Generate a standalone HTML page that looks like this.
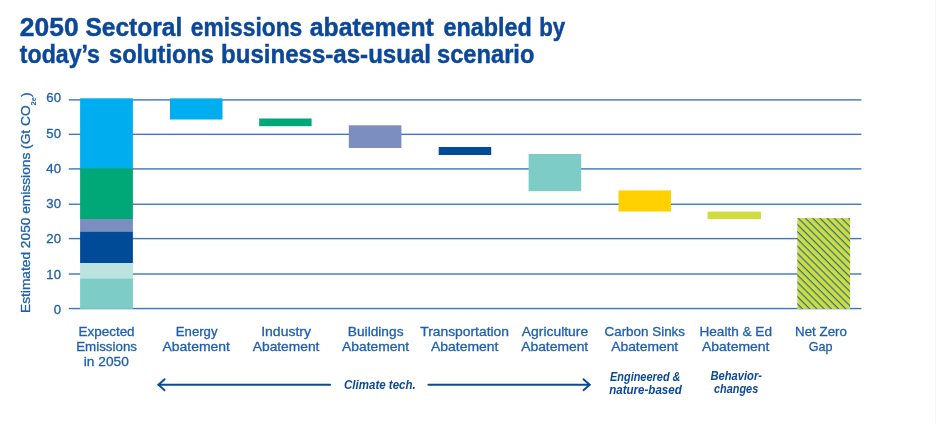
<!DOCTYPE html>
<html lang="en"><head><meta charset="utf-8"><title>2050 Sectoral emissions abatement</title>
<style>html,body{margin:0;padding:0;background:#fff}body{width:936px;height:423px;overflow:hidden}svg{display:block}text{font-family:"Liberation Sans",sans-serif}</style>
</head><body>
<svg width="936" height="423" viewBox="0 0 936 423">
<defs><pattern id="hatch" width="5.1" height="5.1" patternUnits="userSpaceOnUse" patternTransform="translate(-3.2 0) rotate(45)"><rect width="5.1" height="5.1" fill="#cfdc3e"/><rect x="0" y="0" width="5.1" height="1.2" fill="#2f7196"/></pattern></defs>
<rect width="936" height="423" fill="#ffffff"/>
<text x="19.8" y="35.9" font-size="25.6" font-weight="700" fill="#0b4899" stroke="#0b4899" stroke-width="0.45" textLength="58.8" lengthAdjust="spacingAndGlyphs">2050</text>
<text x="85.4" y="35.9" font-size="25.6" font-weight="700" fill="#0b4899" stroke="#0b4899" stroke-width="0.45" textLength="96.9" lengthAdjust="spacingAndGlyphs">Sectoral</text>
<text x="190.8" y="35.9" font-size="25.6" font-weight="700" fill="#0b4899" stroke="#0b4899" stroke-width="0.45" textLength="111.5" lengthAdjust="spacingAndGlyphs">emissions</text>
<text x="309.8" y="35.9" font-size="25.6" font-weight="700" fill="#0b4899" stroke="#0b4899" stroke-width="0.45" textLength="124.0" lengthAdjust="spacingAndGlyphs">abatement</text>
<text x="443.4" y="35.9" font-size="25.6" font-weight="700" fill="#0b4899" stroke="#0b4899" stroke-width="0.45" textLength="88.4" lengthAdjust="spacingAndGlyphs">enabled</text>
<text x="539.2" y="35.9" font-size="25.6" font-weight="700" fill="#0b4899" stroke="#0b4899" stroke-width="0.45" textLength="26.0" lengthAdjust="spacingAndGlyphs">by</text>
<text x="19.8" y="63.1" font-size="25.6" font-weight="700" fill="#0b4899" stroke="#0b4899" stroke-width="0.45" textLength="80.2" lengthAdjust="spacingAndGlyphs">today’s</text>
<text x="109" y="63.1" font-size="25.6" font-weight="700" fill="#0b4899" stroke="#0b4899" stroke-width="0.45" textLength="105.0" lengthAdjust="spacingAndGlyphs">solutions</text>
<text x="221" y="63.1" font-size="25.6" font-weight="700" fill="#0b4899" stroke="#0b4899" stroke-width="0.45" textLength="210.0" lengthAdjust="spacingAndGlyphs">business-as-usual</text>
<text x="437" y="63.1" font-size="25.6" font-weight="700" fill="#0b4899" stroke="#0b4899" stroke-width="0.45" textLength="97.4" lengthAdjust="spacingAndGlyphs">scenario</text>
<rect x="68.8" y="99.20" width="792.6" height="1.4" fill="#3f78b8"/>
<rect x="68.8" y="133.65" width="792.6" height="1.4" fill="#3f78b8"/>
<rect x="68.8" y="168.20" width="792.6" height="1.4" fill="#3f78b8"/>
<rect x="68.8" y="203.55" width="792.6" height="1.4" fill="#3f78b8"/>
<rect x="68.8" y="237.90" width="792.6" height="1.4" fill="#3f78b8"/>
<rect x="68.8" y="273.30" width="792.6" height="1.4" fill="#3f78b8"/>
<rect x="68.8" y="307.85" width="792.6" height="1.4" fill="#3f78b8"/>
<text x="61" y="102.2" font-size="13.2" text-anchor="end" fill="#1d5fae" stroke="#1d5fae" stroke-width="0.3">60</text>
<text x="61" y="137.5" font-size="13.2" text-anchor="end" fill="#1d5fae" stroke="#1d5fae" stroke-width="0.3">50</text>
<text x="61" y="172.7" font-size="13.2" text-anchor="end" fill="#1d5fae" stroke="#1d5fae" stroke-width="0.3">40</text>
<text x="61" y="208.0" font-size="13.2" text-anchor="end" fill="#1d5fae" stroke="#1d5fae" stroke-width="0.3">30</text>
<text x="61" y="243.2" font-size="13.2" text-anchor="end" fill="#1d5fae" stroke="#1d5fae" stroke-width="0.3">20</text>
<text x="61" y="278.5" font-size="13.2" text-anchor="end" fill="#1d5fae" stroke="#1d5fae" stroke-width="0.3">10</text>
<text x="61" y="313.6" font-size="13.2" text-anchor="end" fill="#1d5fae" stroke="#1d5fae" stroke-width="0.3">0</text>
<text transform="translate(30.4 313) rotate(-90)" font-size="13.2" fill="#1d5fae" stroke="#1d5fae" stroke-width="0.3" textLength="220.5" lengthAdjust="spacingAndGlyphs">Estimated 2050 emissions (Gt CO<tspan font-size="7.2" dy="5.3" font-weight="700" stroke="none">2e</tspan><tspan dy="-5.3">)</tspan></text>
<rect x="80.1" y="98.3" width="52.8" height="70.00" fill="#00aeef"/>
<rect x="80.1" y="168.3" width="52.8" height="50.70" fill="#00a878"/>
<rect x="80.1" y="219.0" width="52.8" height="12.50" fill="#7c8dc0"/>
<rect x="80.1" y="231.5" width="52.8" height="31.50" fill="#004b98"/>
<rect x="80.1" y="263.0" width="52.8" height="15.40" fill="#bde3df"/>
<rect x="80.1" y="278.4" width="52.8" height="30.50" fill="#7dccc5"/>
<rect x="170.0" y="98.35" width="52.50" height="21.15" fill="#00aeef"/>
<rect x="259.2" y="118.5" width="52.40" height="7.70" fill="#00a878"/>
<rect x="348.8" y="125.3" width="52.60" height="22.70" fill="#7c8dc0"/>
<rect x="438.7" y="147.0" width="52.50" height="8.00" fill="#004b98"/>
<rect x="528.6" y="154.0" width="52.60" height="37.20" fill="#7dccc5"/>
<rect x="618.5" y="190.4" width="52.50" height="21.10" fill="#ffd100"/>
<rect x="707.6" y="211.6" width="53.30" height="7.50" fill="#cfdc3e"/>
<rect x="797.3" y="218.1" width="52.8" height="90.8" fill="url(#hatch)"/>
<text x="78.6" y="335.8" font-size="13.3" fill="#1d5fae" stroke="#1d5fae" stroke-width="0.3" textLength="56.0" lengthAdjust="spacingAndGlyphs">Expected</text>
<text x="76.2" y="351.0" font-size="13.3" fill="#1d5fae" stroke="#1d5fae" stroke-width="0.3" textLength="60.8" lengthAdjust="spacingAndGlyphs">Emissions</text>
<text x="83.8" y="365.7" font-size="13.3" fill="#1d5fae" stroke="#1d5fae" stroke-width="0.3" textLength="45.0" lengthAdjust="spacingAndGlyphs">in 2050</text>
<text x="175.8" y="335.8" font-size="13.3" fill="#1d5fae" stroke="#1d5fae" stroke-width="0.3" textLength="41.7" lengthAdjust="spacingAndGlyphs">Energy</text>
<text x="162.5" y="351.0" font-size="13.3" fill="#1d5fae" stroke="#1d5fae" stroke-width="0.3" textLength="67.5" lengthAdjust="spacingAndGlyphs">Abatement</text>
<text x="261.2" y="335.8" font-size="13.3" fill="#1d5fae" stroke="#1d5fae" stroke-width="0.3" textLength="49.8" lengthAdjust="spacingAndGlyphs">Industry</text>
<text x="252.8" y="351.0" font-size="13.3" fill="#1d5fae" stroke="#1d5fae" stroke-width="0.3" textLength="66.6" lengthAdjust="spacingAndGlyphs">Abatement</text>
<text x="347.8" y="335.8" font-size="13.3" fill="#1d5fae" stroke="#1d5fae" stroke-width="0.3" textLength="55.7" lengthAdjust="spacingAndGlyphs">Buildings</text>
<text x="342" y="351.0" font-size="13.3" fill="#1d5fae" stroke="#1d5fae" stroke-width="0.3" textLength="67.0" lengthAdjust="spacingAndGlyphs">Abatement</text>
<text x="420.2" y="335.8" font-size="13.3" fill="#1d5fae" stroke="#1d5fae" stroke-width="0.3" textLength="88.8" lengthAdjust="spacingAndGlyphs">Transportation</text>
<text x="431" y="351.0" font-size="13.3" fill="#1d5fae" stroke="#1d5fae" stroke-width="0.3" textLength="67.5" lengthAdjust="spacingAndGlyphs">Abatement</text>
<text x="521.8" y="335.8" font-size="13.3" fill="#1d5fae" stroke="#1d5fae" stroke-width="0.3" textLength="66.4" lengthAdjust="spacingAndGlyphs">Agriculture</text>
<text x="521.2" y="351.0" font-size="13.3" fill="#1d5fae" stroke="#1d5fae" stroke-width="0.3" textLength="67.0" lengthAdjust="spacingAndGlyphs">Abatement</text>
<text x="604.5" y="335.8" font-size="13.3" fill="#1d5fae" stroke="#1d5fae" stroke-width="0.3" textLength="80.5" lengthAdjust="spacingAndGlyphs">Carbon Sinks</text>
<text x="611.2" y="351.0" font-size="13.3" fill="#1d5fae" stroke="#1d5fae" stroke-width="0.3" textLength="67.0" lengthAdjust="spacingAndGlyphs">Abatement</text>
<text x="699.5" y="335.8" font-size="13.3" fill="#1d5fae" stroke="#1d5fae" stroke-width="0.3" textLength="72.5" lengthAdjust="spacingAndGlyphs">Health &amp; Ed</text>
<text x="702" y="351.0" font-size="13.3" fill="#1d5fae" stroke="#1d5fae" stroke-width="0.3" textLength="67.5" lengthAdjust="spacingAndGlyphs">Abatement</text>
<text x="795" y="335.8" font-size="13.3" fill="#1d5fae" stroke="#1d5fae" stroke-width="0.3" textLength="52.0" lengthAdjust="spacingAndGlyphs">Net Zero</text>
<text x="808.8" y="351.0" font-size="13.3" fill="#1d5fae" stroke="#1d5fae" stroke-width="0.3" textLength="23.7" lengthAdjust="spacingAndGlyphs">Gap</text>
<g fill="none" stroke="#0b4899" stroke-width="1.9" stroke-linecap="round"><path d="M158.6 384.7H330.2"/><path d="M164.6 379.2L158.4 384.7L164.6 390.2"/><path d="M428.4 384.7H589.4"/><path d="M583.5 379.2L589.7 384.7L583.5 390.2"/></g>
<text x="344" y="388.6" font-size="12" font-style="italic" font-weight="700" fill="#0b4899" textLength="71.8" lengthAdjust="spacingAndGlyphs">Climate tech.</text>
<text x="610" y="380.5" font-size="12" font-style="italic" font-weight="700" fill="#0b4899" textLength="70.5" lengthAdjust="spacingAndGlyphs">Engineered &amp;</text>
<text x="609.2" y="393.5" font-size="12" font-style="italic" font-weight="700" fill="#0b4899" textLength="72.6" lengthAdjust="spacingAndGlyphs">nature-based</text>
<text x="710.5" y="379.5" font-size="12" font-style="italic" font-weight="700" fill="#0b4899" textLength="51.5" lengthAdjust="spacingAndGlyphs">Behavior-</text>
<text x="714" y="392.5" font-size="12" font-style="italic" font-weight="700" fill="#0b4899" textLength="44.2" lengthAdjust="spacingAndGlyphs">changes</text>
<rect x="935" y="0" width="1" height="423" fill="#f3f7fb"/>
</svg></body></html>
